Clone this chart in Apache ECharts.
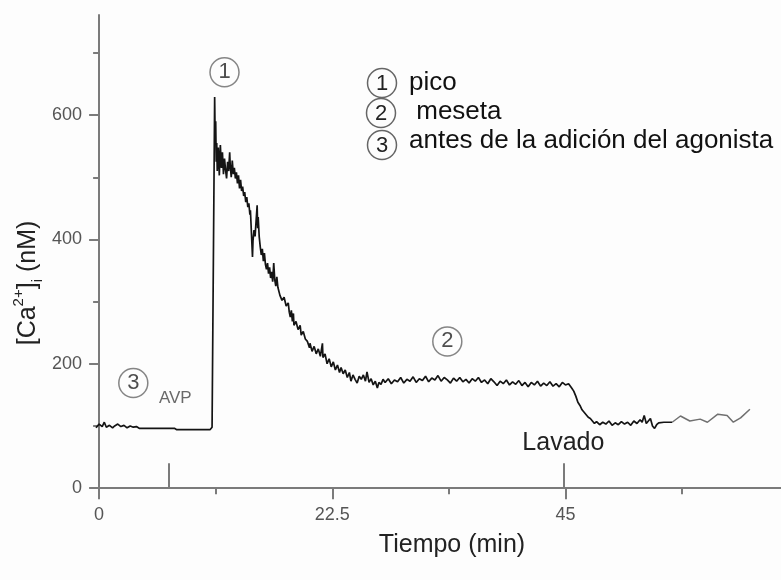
<!DOCTYPE html>
<html>
<head>
<meta charset="utf-8">
<script src="https://cdn.jsdelivr.net/npm/echarts@6/dist/echarts.min.js"></script>
<style>
  html, body { margin: 0; padding: 0; background: #fdfdfd; }
  #chart { width: 781px; height: 580px; }
</style>
</head>
<body>
<div id="chart"></div>
<script>
// Intracellular calcium trace [Ca2+]i (nM) vs time (min)
const timeMin = [
  -0.3, 0, 0.3, 0.5, 0.7, 1.0, 1.3, 1.5, 1.8, 2.1, 2.4, 2.7, 3.0, 3.3, 3.6, 3.9,
  4.1, 7.3, 7.5, 10.7, 10.9, 11.05,
  11.1, 11.15, 11.2, 11.25, 11.3, 11.35, 11.4, 11.5, 11.6, 11.7, 11.8, 11.9, 12.0, 12.1, 12.2, 12.3,
  12.4, 12.5, 12.6, 12.65, 12.75, 12.85, 12.95, 13.05, 13.15, 13.25, 13.35, 13.45, 13.55, 13.65,
  13.75, 13.85, 13.95, 14.05, 14.15, 14.25, 14.35, 14.45, 14.55, 14.6, 14.7, 14.8, 14.85, 14.95,
  15.05, 15.15, 15.25, 15.3, 15.35, 15.45, 15.55, 15.65, 15.75, 15.85, 15.95, 16.05, 16.15, 16.25,
  16.35, 16.45, 16.55, 16.65, 16.75, 16.85, 16.95, 17.05, 17.15, 17.25, 17.45, 17.65, 17.85, 18.05,
  18.25, 18.35, 18.45, 18.55, 18.65, 18.75, 18.8, 19.0, 19.2, 19.4, 19.5, 19.7, 19.9, 20.1, 20.3,
  20.35, 20.55, 20.75, 20.95, 21.15, 21.35, 21.55, 21.6, 21.8, 22.0, 22.2, 22.4, 22.6, 22.8, 23.0,
  23.2, 23.35, 23.55, 23.75, 23.95, 24.15, 24.3, 24.5, 24.7, 24.9, 25.1, 25.3, 25.5, 25.7, 25.85,
  26.05, 26.25, 26.45, 26.65, 26.85, 27.0, 27.2, 27.4,
  27.6, 27.9, 28.2, 28.5, 28.8, 29.1, 29.4, 29.7, 30.0, 30.3, 30.6, 30.9, 31.2, 31.5, 31.8, 32.1,
  32.4, 32.7, 33.0, 33.3, 33.6, 33.9, 34.2, 34.5, 34.8, 35.1, 35.4, 35.7, 36.0, 36.3, 36.6, 36.9,
  37.2, 37.5, 37.8, 38.1, 38.4, 38.7, 39.0, 39.3, 39.6, 39.9, 40.2, 40.5, 40.8, 41.1, 41.4, 41.7,
  42.0, 42.3, 42.6, 42.9, 43.2, 43.5, 43.8, 44.1, 44.4, 44.7, 45.0, 45.3, 45.6,
  45.8, 46.0, 46.2, 46.4, 46.6, 46.8, 47.0, 47.2, 47.4, 47.6, 47.8, 48.0, 48.3, 48.6, 48.9, 49.2,
  49.5, 49.8, 50.1, 50.4, 50.7, 51.0, 51.3, 51.6, 51.9, 52.2, 52.4, 52.6, 52.8, 53.0, 53.2, 53.4,
  53.6, 53.8, 54.0, 54.5, 55.0, 55.3
];
const caNM = [
  97, 103, 99, 106, 98, 101, 97, 100, 103, 99, 101, 97, 100, 98, 99, 96,
  96, 96, 94, 94, 98, 95,
  95, 629, 560, 590, 525, 555, 510, 548, 503, 552, 515, 540, 505, 530, 512, 498,
  525, 510, 540, 520, 500, 527, 505, 515, 498, 508, 490, 503, 482, 496,
  478, 485, 470, 476, 460, 468, 452, 458, 440, 447, 410, 372, 398, 415,
  405, 430, 455, 418, 436, 404, 388, 375, 385, 365, 378, 360, 352, 362,
  345, 355, 338, 348, 332, 362, 335, 325, 340, 323, 310, 302, 307, 293,
  298, 283, 275, 286, 268, 281, 262, 268, 255, 262, 246, 252, 240, 236, 226,
  233, 220, 228, 216, 224, 212, 233, 210, 216, 200, 208, 195, 203, 190, 198,
  186, 194, 184, 190, 178, 186, 172, 182, 175, 169, 180, 175, 182, 172, 187,
  170, 176, 166, 172, 161, 170, 167, 175,
  170, 176, 168, 174, 171, 178, 169, 175, 172, 179, 170, 176, 173, 180, 171, 177,
  174, 181, 172, 178, 174, 169, 177, 172, 178, 171, 175, 169, 176, 172, 178, 170,
  174, 168, 176, 171, 165, 172, 168, 174, 166, 171, 167, 173, 165, 170, 163, 170,
  166, 172, 164, 169, 165, 171, 164, 168, 163, 170, 166, 168, 161,
  156, 148, 138, 133, 126, 122, 118, 114, 112, 108, 104, 107, 102, 106, 103, 108,
  101, 105, 102, 107, 103, 106, 101, 108, 104, 110, 106, 117, 104, 108, 112, 100,
  96, 102, 105, 106, 106, 106
];
// Last part of the recording (lighter trace)
const tailTimeMin = [55.3, 56.1, 57.0, 58.0, 58.7, 59.7, 60.6, 61.2, 61.9, 62.8];
const tailCaNM = [106, 116, 108, 111, 106, 119, 117, 106, 113, 127];

// Event marks on the time axis
const eventTimes = [6.7, 44.8];
const eventLabels = ['', 'Lavado'];
const eventHeight = 40;

// Axis ticks
const xMajorTicks = [0, 22.5, 45];
const xMinorTicks = [11.25, 33.75, 56.25];
const yMajorTicks = [0, 200, 400, 600];
const yMinorTicks = [100, 300, 500, 700];

const FONT = "'Liberation Sans', Arial, sans-serif";
const AXIS_GRAY = '#7b7b7b';

const trace = timeMin.map((t, i) => [t, caNM[i]]);
const tail = tailTimeMin.map((t, i) => [t, tailCaNM[i]]);

const chart = echarts.init(document.getElementById('chart'), null, { renderer: 'canvas' });

const xBase = { type: 'value', min: -0.3, max: 65.8, position: 'bottom', splitLine: { show: false } };
const yBase = { type: 'value', min: -3, max: 761, position: 'left', splitLine: { show: false } };

const keyText = (x, y, text) => ({
  type: 'text', x: x, y: y,
  style: { text: text, fontSize: 26, fontFamily: FONT, fill: '#111', align: 'left', verticalAlign: 'middle' }
});
const keyCircle = (cx, cy, n) => ([
  { type: 'circle', shape: { cx: cx, cy: cy, r: 14.5 }, style: { fill: 'none', stroke: '#666', lineWidth: 1.5 } },
  { type: 'text', x: cx, y: cy + 1, style: { text: n, fontSize: 22, fontFamily: FONT, fill: '#222', align: 'center', verticalAlign: 'middle' } }
]);

chart.setOption({
  animation: false,
  backgroundColor: '#fdfdfd',
  grid: { left: 96, right: 0, top: 15, bottom: 90, containLabel: false, outerBoundsMode: 'none' },
  xAxis: [
    Object.assign({}, xBase, {
      axisLine: { show: true, lineStyle: { color: AXIS_GRAY, width: 2 } },
      axisTick: { show: true, customValues: xMajorTicks, length: 11, lineStyle: { color: AXIS_GRAY, width: 2 } },
      axisLabel: { show: true, customValues: xMajorTicks, fontSize: 18, color: '#555', fontFamily: FONT, margin: 16 }
    }),
    Object.assign({}, xBase, {
      axisLine: { show: false },
      axisTick: { show: true, customValues: xMinorTicks, length: 6, lineStyle: { color: AXIS_GRAY, width: 2 } },
      axisLabel: { show: false }
    })
  ],
  yAxis: [
    Object.assign({}, yBase, {
      axisLine: { show: true, lineStyle: { color: AXIS_GRAY, width: 2 } },
      axisTick: { show: true, customValues: yMajorTicks, length: 10, lineStyle: { color: AXIS_GRAY, width: 2 } },
      axisLabel: { show: true, customValues: yMajorTicks, fontSize: 18, color: '#555', fontFamily: FONT, margin: 14 }
    }),
    Object.assign({}, yBase, {
      axisLine: { show: false },
      axisTick: { show: true, customValues: yMinorTicks, length: 6, lineStyle: { color: AXIS_GRAY, width: 2 } },
      axisLabel: { show: false }
    })
  ],
  series: [
    {
      name: 'trace',
      type: 'line',
      data: trace,
      symbol: 'none',
      lineStyle: { color: '#141414', width: 1.7 },
      markLine: {
        silent: true,
        symbol: 'none',
        lineStyle: { color: AXIS_GRAY, width: 2, type: 'solid' },
        label: { show: false },
        data: eventTimes.map((t, i) => [
          { coord: [t, 0], label: { show: !!eventLabels[i], formatter: eventLabels[i], position: 'end', distance: 8,
              fontSize: 25, color: '#222', fontFamily: FONT } },
          { coord: [t, eventHeight] }
        ])
      }
    },
    {
      name: 'tail',
      type: 'line',
      data: tail,
      symbol: 'none',
      lineStyle: { color: '#707070', width: 1.5 }
    },
    {
      // circled phase numbers placed on the trace
      name: 'phases',
      type: 'scatter',
      symbol: 'circle',
      symbolSize: 29,
      silent: true,
      itemStyle: { color: 'rgba(0,0,0,0)', borderColor: '#666', borderWidth: 1.5 },
      label: { show: true, position: 'inside', formatter: p => p.data[2], fontSize: 22, color: '#222', fontFamily: FONT },
      data: [[12.1, 669, '1'], [33.6, 236, '2'], [3.3, 169, '3']]
    },
    {
      name: 'notes',
      type: 'scatter',
      symbolSize: 0,
      silent: true,
      label: { show: true, position: 'inside', formatter: p => p.data[2], fontSize: 17, color: '#444', fontFamily: FONT },
      data: [[7.35, 145, 'AVP']]
    }
  ],
  graphic: [].concat(
    // phase key
    keyCircle(382, 83, '1'),
    keyCircle(381, 113, '2'),
    keyCircle(382, 145, '3'),
    [
      keyText(409, 83, 'pico'),
      keyText(409, 112, ' meseta'),
      keyText(409, 141, 'antes de la adición del agonista'),
      // axis titles
      { type: 'text', x: 452, y: 545, style: { text: 'Tiempo (min)', fontSize: 25, fontFamily: FONT, fill: '#222', align: 'center', verticalAlign: 'middle' } },
      {
        type: 'text', x: 28, y: 283, rotation: Math.PI / 2,
        style: {
          text: '[Ca{sup|2+}]{sub|i} (nM)',
          fontSize: 25, fontFamily: FONT, fill: '#222', align: 'center', verticalAlign: 'middle', lineHeight: 34,
          rich: {
            sup: { fontSize: 15, fontFamily: FONT, fill: '#222', verticalAlign: 'top', lineHeight: 15 },
            sub: { fontSize: 15, fontFamily: FONT, fill: '#222', verticalAlign: 'bottom', lineHeight: 15 }
          }
        }
      }
    ]
  )
});
</script>
</body>
</html>
